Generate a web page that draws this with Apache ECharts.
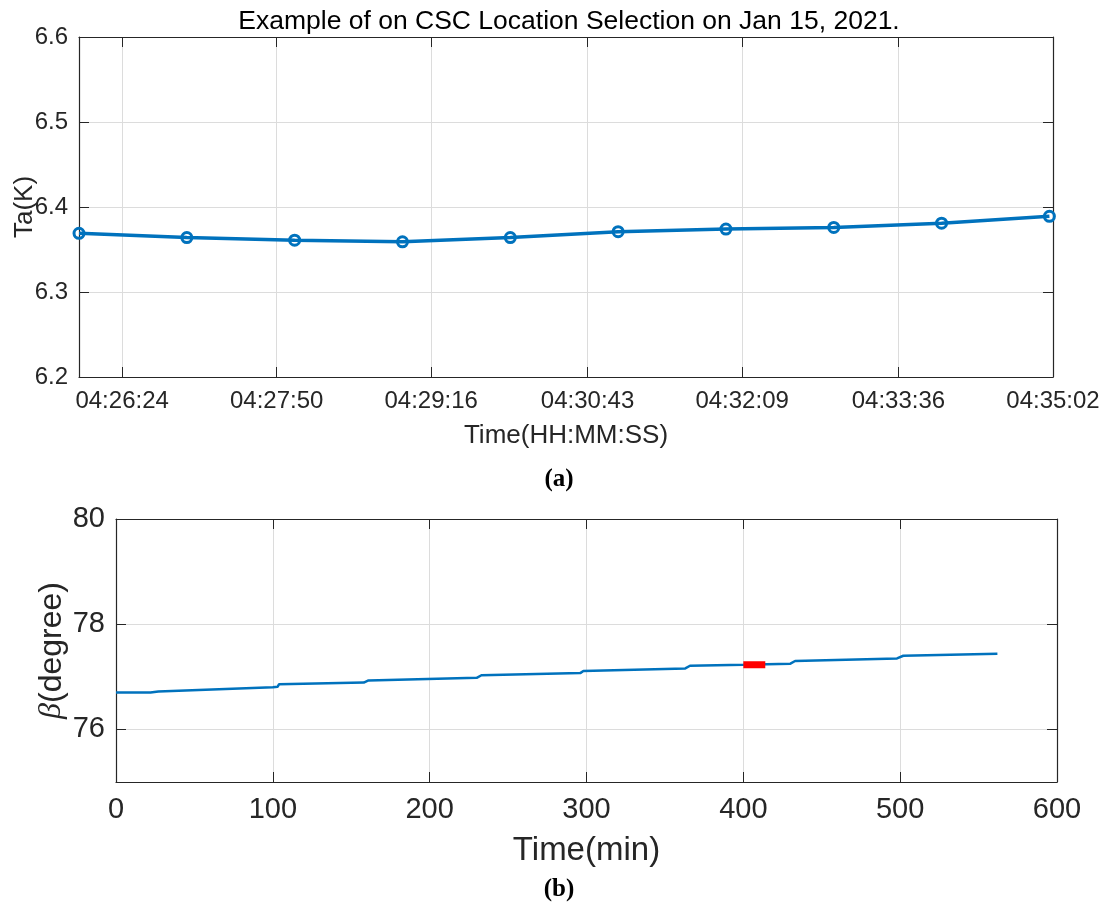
<!DOCTYPE html>
<html>
<head>
<meta charset="utf-8">
<script src="https://cdn.jsdelivr.net/npm/echarts@6/dist/echarts.min.js"></script>
<style>
  html, body { margin: 0; padding: 0; background: #fff; }
  #chart { width: 1108px; height: 911px; }
</style>
</head>
<body>
<div id="chart"></div>
<script>
// (a) Ta one sample per minute
var taTimes = ['04:26:00', '04:27:00', '04:28:00', '04:29:00', '04:30:00',
               '04:31:00', '04:32:00', '04:33:00', '04:34:00', '04:35:00'];
var taValues = [6.369, 6.364, 6.361, 6.359, 6.364, 6.371, 6.374, 6.376, 6.381, 6.389];
var taTickLabels = ['04:26:24', '04:27:50', '04:29:16', '04:30:43', '04:32:09', '04:33:36', '04:35:02'];
var taEnd = '04:35:02';

// (b) beta angle over the day
var betaMinutes = [0, 22, 27, 28, 100, 103, 104, 158, 161, 230, 233, 296, 298, 363, 366, 400, 430, 433, 498, 502, 562];
var betaValues = [76.70, 76.70, 76.72, 76.75, 76.80, 76.81, 76.86, 76.89, 76.93, 76.98, 77.03,
                  77.07, 77.11, 77.16, 77.21, 77.23, 77.25, 77.30, 77.35, 77.40, 77.44];
// selected CSC location (red)
var selMinutes = [400, 402, 404, 406, 408, 410, 412, 414];
var selValues = [77.23, 77.23, 77.23, 77.23, 77.23, 77.23, 77.23, 77.23];
var betaYTicks = [76, 78, 80];

var blue = '#0072BD';
var axisColor = '#262626';
var gridColor = '#dcdcdc';
var font = 'Liberation Sans, Arial, sans-serif';

function toSec(s) {
  var p = s.split(':');
  return (+p[0]) * 3600 + (+p[1]) * 60 + (+p[2]);
}
function pad(n) { return (n < 10 ? '0' : '') + n; }
function fmtSec(v) {
  v = Math.round(v);
  return pad(Math.floor(v / 3600)) + ':' + pad(Math.floor(v % 3600 / 60)) + ':' + pad(v % 60);
}

var taTicks = taTickLabels.map(toSec);
var taData = taTimes.map(function (t, i) { return [toSec(t), taValues[i]]; });
var betaData = betaMinutes.map(function (m, i) { return [m, betaValues[i]]; });
var selData = selMinutes.map(function (m, i) { return [m, selValues[i]]; });

var tick = { show: true, inside: true, length: 10, lineStyle: { color: axisColor, width: 1 } };
var line = { show: true, onZero: false, lineStyle: { color: axisColor, width: 1.2 } };
var split = { show: true, lineStyle: { color: gridColor, width: 1 } };

var myChart = echarts.init(document.getElementById('chart'));

var option = {
  backgroundColor: '#fff',
  animation: false,
  title: [
    {
      text: 'Example of on CSC Location Selection on Jan 15, 2021.',
      left: 564, top: 3, textAlign: 'center',
      textStyle: { fontFamily: font, fontWeight: 'normal', fontSize: 26.5, color: '#000' }
    },
    {
      text: '(a)', left: 554, top: 462, textAlign: 'center',
      textStyle: { fontFamily: 'Liberation Serif, serif', fontWeight: 'bold', fontSize: 25, color: '#000' }
    },
    {
      text: '(b)', left: 554, top: 872, textAlign: 'center',
      textStyle: { fontFamily: 'Liberation Serif, serif', fontWeight: 'bold', fontSize: 25, color: '#000' }
    }
  ],
  grid: [
    { left: 79, top: 37, width: 974, height: 340, outerBoundsMode: 'none' },
    { left: 116, top: 519, width: 941, height: 263, outerBoundsMode: 'none' }
  ],
  xAxis: [
    {
      gridIndex: 0, type: 'value', position: 'bottom',
      min: taData[0][0], max: toSec(taEnd),
      name: 'Time(HH:MM:SS)', nameLocation: 'middle', nameGap: 46, nameMoveOverlap: false,
      nameTextStyle: { fontFamily: font, fontSize: 26, color: axisColor },
      axisLine: line,
      axisTick: Object.assign({ customValues: taTicks }, tick),
      axisLabel: {
        customValues: taTicks, margin: 12, fontFamily: font, fontSize: 24, color: axisColor,
        formatter: function (v) { return fmtSec(v); }
      },
      splitLine: split
    },
    {
      gridIndex: 0, type: 'value', position: 'top',
      min: taData[0][0], max: toSec(taEnd),
      axisLine: line,
      axisTick: Object.assign({ customValues: taTicks }, tick),
      axisLabel: { show: false },
      splitLine: { show: false }
    },
    {
      gridIndex: 1, type: 'value', position: 'bottom',
      min: 0, max: 600, interval: 100,
      name: 'Time(min)', nameLocation: 'middle', nameGap: 52, nameMoveOverlap: false,
      nameTextStyle: { fontFamily: font, fontSize: 33, color: axisColor },
      axisLine: line, axisTick: tick,
      axisLabel: { margin: 13, fontFamily: font, fontSize: 29, color: axisColor },
      splitLine: split
    },
    {
      gridIndex: 1, type: 'value', position: 'top',
      min: 0, max: 600, interval: 100,
      axisLine: line, axisTick: tick,
      axisLabel: { show: false }, splitLine: { show: false }
    }
  ],
  yAxis: [
    {
      gridIndex: 0, type: 'value', position: 'left',
      min: 6.2, max: 6.6, interval: 0.1,
      name: 'Ta(K)', nameLocation: 'middle', nameGap: 41, nameRotate: 90, nameMoveOverlap: false,
      nameTextStyle: { fontFamily: font, fontSize: 26, color: axisColor },
      axisLine: line, axisTick: tick,
      axisLabel: {
        margin: 11, fontFamily: font, fontSize: 24, color: axisColor,
        formatter: function (v) { return v.toFixed(1); }
      },
      splitLine: split
    },
    {
      gridIndex: 0, type: 'value', position: 'right',
      min: 6.2, max: 6.6, interval: 0.1,
      axisLine: line, axisTick: tick,
      axisLabel: { show: false }, splitLine: { show: false }
    },
    {
      gridIndex: 1, type: 'value', position: 'left',
      min: 75, max: 80,
      name: '{b|β}(degree)', nameLocation: 'middle', nameGap: 48, nameRotate: 90, nameMoveOverlap: false,
      nameTextStyle: {
        fontFamily: font, fontSize: 32, color: axisColor,
        rich: { b: { fontFamily: 'Liberation Serif, serif', fontStyle: 'italic', fontSize: 32, color: axisColor } }
      },
      axisLine: line,
      axisTick: Object.assign({ customValues: betaYTicks }, tick),
      axisLabel: { customValues: betaYTicks, margin: 11, fontFamily: font, fontSize: 29, color: axisColor },
      splitLine: split
    },
    {
      gridIndex: 1, type: 'value', position: 'right',
      min: 75, max: 80,
      axisLine: line,
      axisTick: Object.assign({ customValues: betaYTicks }, tick),
      axisLabel: { show: false }, splitLine: { show: false }
    }
  ],
  series: [
    {
      type: 'line', xAxisIndex: 0, yAxisIndex: 0,
      data: taData,
      symbol: 'circle', symbolSize: 10,
      lineStyle: { color: blue, width: 3.5 },
      itemStyle: { color: 'rgba(0,0,0,0)', borderColor: blue, borderWidth: 3 },
      z: 3
    },
    {
      type: 'line', xAxisIndex: 2, yAxisIndex: 2,
      data: betaData, symbol: 'none',
      lineStyle: { color: blue, width: 2.5 }
    },
    {
      type: 'line', xAxisIndex: 2, yAxisIndex: 2,
      data: selData, symbol: 'none',
      lineStyle: { color: '#ff0000', width: 7 },
      z: 4
    }
  ]
};

myChart.setOption(option);
</script>
</body>
</html>
